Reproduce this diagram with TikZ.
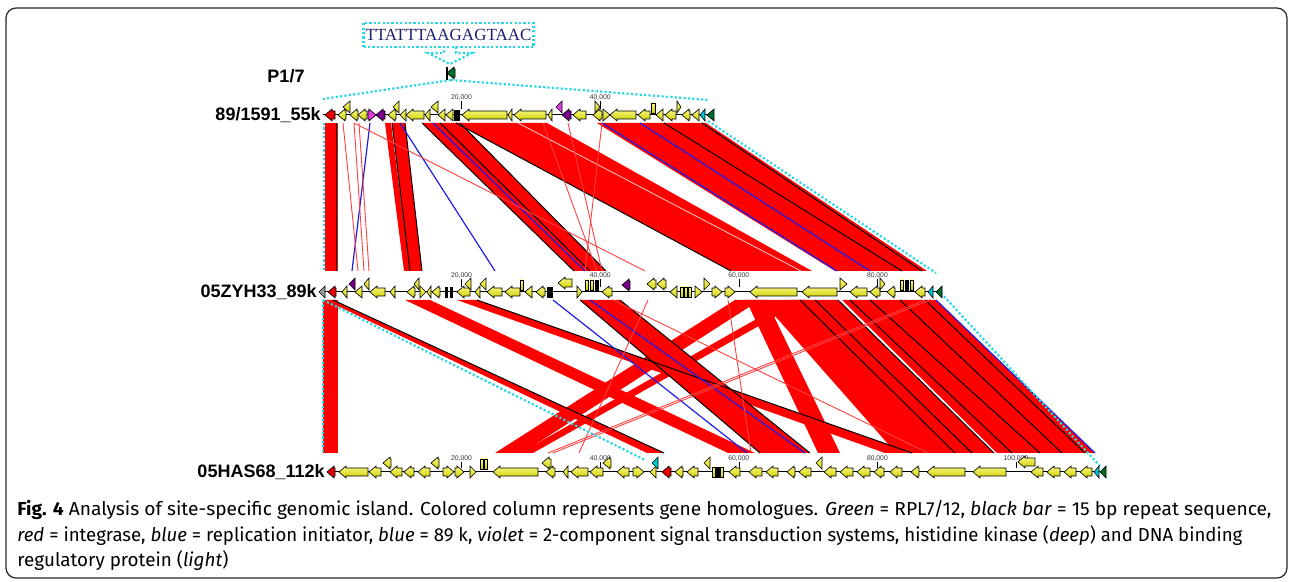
\documentclass[tikz,border=0pt]{standalone}
\usepackage{fontspec}
\usepackage{graphicx}
\setmainfont{Fira Sans}
\newfontfamily\trackfont{Liberation Sans}
\newfontfamily\seqfont{Liberation Serif}
\usetikzlibrary{positioning}

\definecolor{genetop}{RGB}{250,250,130}
\definecolor{genebottom}{RGB}{205,205,0}
\definecolor{genered}{RGB}{230,0,0}
\definecolor{deepviolet}{RGB}{120,0,140}
\definecolor{lightviolet}{RGB}{225,60,225}
\definecolor{genecyan}{RGB}{0,200,210}
\definecolor{genegreen}{RGB}{0,110,40}
\definecolor{islandcyan}{RGB}{40,215,230}
\definecolor{seqblue}{RGB}{30,30,110}
\definecolor{homred}{RGB}{255,0,0}
\definecolor{replblue}{RGB}{30,30,230}

% gene arrow: y, from, to, direction (l/r/b), colour
\newcommand\genearrow[5]{%
  \pgfmathsetmacro\genehead{min(7,#3-#2)}%
  \if l#4%
    \path[gene, gene #5/.try] (#2,#1) -- ++(\genehead,-6) -- ++(0,2) -- (#3,#1-4)
      -- (#3,#1+4) -- (#2+\genehead,#1+4) -- ++(0,2) -- cycle;%
  \else\if r#4%
    \path[gene, gene #5/.try] (#3,#1) -- ++(-\genehead,-6) -- ++(0,2) -- (#2,#1-4)
      -- (#2,#1+4) -- (#3-\genehead,#1+4) -- ++(0,2) -- cycle;%
  \else
    \path[gene, gene #5/.try] (#2,#1-5) rectangle (#3,#1+5);%
  \fi\fi}

\begin{document}
\begin{tikzpicture}[x=0.5pt, y=-0.5pt,
    gene/.style={draw=black, line width=0.3pt},
    gene yellow/.style={top color=genetop, bottom color=genebottom},
    gene red/.style={fill=genered},
    gene deepviolet/.style={fill=deepviolet},
    gene lightviolet/.style={fill=lightviolet},
    gene cyan/.style={fill=genecyan},
    gene green/.style={fill=genegreen},
    gene black/.style={fill=black},
    gene grey/.style={fill=black!40},
    homolog/.style={fill=homred},
    homedge/.style={draw=black, line width=0.5pt},
    homwhite/.style={draw=white!80!red, line width=0.4pt},
    repl/.style={draw=replblue, line width=0.6pt},
    thinhom/.style={draw=homred!75, line width=0.45pt},
    island/.style={draw=islandcyan, line width=1.1pt, dash pattern=on 1.1pt off 1.1pt},
    trackline/.style={draw=black, line width=0.5pt},
    tracklabel/.style={font=\trackfont\fontsize{9pt}{10pt}\selectfont\bfseries, inner sep=0pt},
    scalelabel/.style={font=\trackfont\fontsize{3.4pt}{4pt}\selectfont, inner sep=0pt, text=black!80},
    caption/.style={font=\fontsize{9.4pt}{11pt}\selectfont, inner sep=0pt, anchor=base west}]

\useasboundingbox (0,0) rectangle (1292,582);
\draw[rounded corners=5pt, line width=0.6pt, black!85] (6,8) rectangle (1287,578);

% repeat sequence and P1/7
\node[draw=islandcyan, line width=1.1pt, dash pattern=on 1.1pt off 1.1pt,
      font=\seqfont\fontsize{8.5pt}{10pt}\selectfont, text=seqblue,
      inner xsep=1pt, minimum height=10.5pt] (seq) at (448.5,35) {TTATTTAAGAGTAAC};
\draw[island] (444,46) -- (444,53) -- (428,53) -- (450,64) -- (472,53) -- (456,53) -- (456,46);
\node[tracklabel] (p17-name) at (286,76) {P1/7};
\genearrow{73}{447}{455}{l}{green}
\path[gene, gene black] (446,67) rectangle (447.5,79);
\coordinate (p17) at (451,80);

\coordinate (isl1-l) at (323,99);
\coordinate (isl1-r) at (709,100);
\coordinate (isl1-bl) at (324,123);
\coordinate (isl1-br) at (708,121);
\coordinate (isl2-tl) at (324,272);
\coordinate (isl2-tr) at (936,273);
\coordinate (isl2-bl) at (323,300);
\coordinate (isl2-br) at (941,293);
\coordinate (isl3-tl) at (323,453);
\coordinate (isl3-diag) at (645,460);
\coordinate (isl3-r) at (1100,466);

% homologous blocks 89/1591 - 05ZYH33
\foreach \a/\b/\c/\d in {325/338/325/338, 385/391/404/410, 392/405/410/422,
    422/460/574/606, 456/547/731/812, 597/706/835/927}
  \fill[homolog] (\a,123) -- (\b,123) -- (\d,271) -- (\c,271) -- cycle;
\draw[homwhite] (518,123) -- (801,271);
\foreach \a/\b in {336/336, 392/410, 405/422, 422/574, 440/590, 460/606,
    456/731, 664/902, 702/922}
  \draw[homedge] (\a,123) -- (\b,271);
\foreach \a/\b in {370/352, 400/495, 433/585, 602/837, 640/870}
  \draw[repl] (\a,123) -- (\b,271);
\foreach \a/\b in {343/358, 354/364, 359/369, 354/645, 568/602, 602/585, 543/597}
  \draw[thinhom] (\a,123) -- (\b,271);

% homologous blocks 05ZYH33 - 05HAS68
\foreach \a/\b/\c/\d in {323/338/323/338, 325/333/647/664, 405/430/728/755,
    457/477/885/912, 580/620/760/810, 735/760/495/522, 790/805/520/533,
    746/766/818/840, 761/838/896/994, 842/936/997/1095}
  \fill[homolog] (\a,300) -- (\b,300) -- (\d,453) -- (\c,453) -- cycle;
\foreach \a/\b in {333/664, 477/912, 580/760, 620/810, 800/955, 815/972,
    850/1012, 870/1040, 900/1062, 925/1085, 838/994}
  \draw[homedge] (\a,300) -- (\b,453);
\foreach \a/\b in {553/747, 590/805, 936/1095}
  \draw[repl] (\a,300) -- (\b,453);
\foreach \a/\b in {648/579, 728/751, 613/928, 925/548, 930/553}
  \draw[thinhom] (\a,300) -- (\b,453);

% island borders
\draw[island] (p17) -- (isl1-l);
\draw[island] (p17) -- (isl1-r);
\draw[island] (isl1-bl) -- (isl2-tl);
\draw[island] (isl1-br) -- (isl2-tr);
\draw[island] (isl2-bl) -- (isl3-tl);
\draw[island] (isl2-bl) -- (isl3-diag);
\draw[island] (isl2-br) -- (isl3-r);

% track 89/1591_55k
\coordinate (t1-start) at (323,115);
\coordinate (t1-end) at (714,115);
\draw[trackline] (t1-start) -- (t1-end);
\node[tracklabel, left=1pt of t1-start] (t1-name) {89/1591\_55k};
\foreach \v [count=\i] in {20,40} {
  \node[scalelabel] (t1-scale-\i) at (323+6.93*\v,98) {\v,000};
  \draw[line width=0.3pt] (t1-scale-\i.south) -- ++(0,8);
}
\foreach \a/\b/\d/\s/\o in {325/335/l/red/0, 338/346/l/yellow/0, 343/350/l/yellow/8,
    350/358/l/yellow/0, 358/367/l/yellow/0, 368/376/r/lightviolet/0,
    376/385/l/deepviolet/0, 388/396/l/yellow/0, 393/399/l/yellow/8,
    400/406/l/yellow/0, 406/424/l/yellow/0, 425/430/l/yellow/0,
    431/438/l/yellow/8, 438/445/l/yellow/0, 446/453/l/yellow/0,
    454/456/b/black/0, 457/459/b/black/0, 462/507/l/yellow/0,
    508/512/l/yellow/0, 514/546/l/yellow/0, 548/552/l/yellow/0,
    556/562/l/lightviolet/8, 562/571/l/deepviolet/0, 573/586/l/yellow/0,
    593/602/l/yellow/0, 595/600/r/yellow/8, 603/610/r/yellow/0,
    610/636/l/yellow/0, 638/650/l/yellow/0, 651/655/b/yellow/7,
    656/663/l/yellow/0, 665/676/l/yellow/0, 677/681/r/yellow/8,
    682/690/l/yellow/0, 692/699/l/yellow/0, 700/705/l/cyan/0, 707/714/l/green/0}
  \genearrow{115-\o}{\a}{\b}{\d}{\s};

% track 05ZYH33_89k
\coordinate (t2-start) at (319,292);
\coordinate (t2-end) at (942,292);
\draw[trackline] (t2-start) -- (t2-end);
\node[tracklabel, left=1pt of t2-start] (t2-name) {05ZYH33\_89k};
\foreach \v [count=\i] in {20,40,60,80} {
  \node[scalelabel] (t2-scale-\i) at (323+6.93*\v,276) {\v,000};
  \draw[line width=0.3pt] (t2-scale-\i.south) -- ++(0,8);
}
\foreach \a/\b/\d/\s/\o in {319/325/l/grey/0, 328/336/l/red/0, 342/347/l/yellow/0,
    349/355/l/deepviolet/8, 355/362/l/yellow/0, 364/369/l/yellow/8,
    370/385/l/yellow/0, 390/395/l/yellow/0, 407/415/l/yellow/0,
    414/419/l/yellow/8, 420/426/r/yellow/0, 427/431/l/yellow/0,
    432/440/l/yellow/0, 445/447/b/black/0, 450/452/b/black/0,
    457/470/l/yellow/0, 465/471/l/yellow/8, 475/480/l/yellow/0,
    480/486/l/yellow/8, 487/502/l/yellow/0, 505/520/l/yellow/0,
    520/523/b/yellow/7, 525/532/l/yellow/0, 536/545/l/yellow/0,
    547/552/b/black/0, 558/572/l/yellow/9, 577/582/r/yellow/0,
    585/588/b/yellow/7, 590/593/b/yellow/7, 595/598/b/black/7,
    602/612/l/yellow/0, 622/630/l/deepviolet/7, 647/656/l/yellow/8,
    657/666/l/yellow/8, 670/677/l/yellow/0, 680/683/b/yellow/0,
    684/687/b/yellow/0, 688/691/b/yellow/0, 695/702/r/yellow/0,
    704/710/r/yellow/8, 712/722/r/yellow/0, 725/735/r/yellow/0,
    750/797/l/yellow/0, 802/837/l/yellow/0, 840/847/r/yellow/8,
    850/867/l/yellow/0, 870/880/l/yellow/0, 880/885/r/yellow/8,
    887/895/l/yellow/0, 900/903/b/yellow/7, 905/908/b/black/7,
    910/913/b/yellow/7, 915/925/l/yellow/0, 928/933/l/cyan/0, 936/942/l/green/0}
  \genearrow{292-\o}{\a}{\b}{\d}{\s};

% track 05HAS68_112k
\coordinate (t3-start) at (327,472);
\coordinate (t3-end) at (1106,472);
\draw[trackline] (t3-start) -- (t3-end);
\node[tracklabel, left=1pt of t3-start] (t3-name) {05HAS68\_112k};
\foreach \v [count=\i] in {20,40,60,80,100} {
  \node[scalelabel] (t3-scale-\i) at (323+6.93*\v,459) {\v,000};
  \draw[line width=0.3pt] (t3-scale-\i.south) -- ++(0,6);
}
\foreach \a/\b/\d/\s/\o in {327/335/l/red/0, 339/368/l/yellow/0, 369/381/l/yellow/0,
    383/391/l/yellow/9, 390/402/l/yellow/0, 404/414/l/yellow/0,
    418/430/l/yellow/0, 431/439/l/yellow/9, 443/454/r/yellow/0,
    455/464/r/yellow/0, 470/476/r/yellow/0, 480/483/b/yellow/8,
    484/487/b/yellow/8, 493/538/l/yellow/0, 542/551/l/yellow/9,
    546/555/l/yellow/0, 563/568/l/yellow/0, 571/588/l/yellow/0,
    590/603/l/yellow/0, 603/611/l/yellow/9, 617/629/l/yellow/0,
    633/644/r/yellow/0, 650/656/l/yellow/0, 652/658/l/cyan/9,
    662/671/l/red/0, 675/683/l/yellow/0, 687/698/l/yellow/0,
    704/710/l/yellow/9, 712/715/b/yellow/0, 716/719/b/black/0,
    720/723/b/yellow/0, 729/740/l/yellow/0, 749/762/l/yellow/0,
    766/778/l/yellow/0, 787/795/l/yellow/0, 799/811/l/yellow/0,
    816/822/l/yellow/9, 824/836/l/yellow/0, 840/853/l/yellow/0,
    857/870/l/yellow/0, 874/884/l/yellow/0, 890/902/l/yellow/0,
    911/919/l/yellow/0, 927/965/l/yellow/0, 973/1006/l/yellow/0,
    1018/1035/l/yellow/10, 1031/1043/l/yellow/0, 1047/1060/l/yellow/0,
    1064/1076/l/yellow/0, 1080/1092/l/yellow/0, 1094/1099/l/cyan/0,
    1100/1106/l/green/0}
  \genearrow{472-\o}{\a}{\b}{\d}{\s};

% caption
\node[caption] (cap-1) at (17,516) {\resizebox{627pt}{\height}{\textbf{Fig. 4} Analysis of site-specific genomic island. Colored column represents gene homologues. \textit{Green} = RPL7/12, \textit{black bar} = 15 bp repeat sequence,}};
\node[caption] (cap-2) at (17,542) {\resizebox{612.5pt}{\height}{\textit{red} = integrase, \textit{blue} = replication initiator, \textit{blue} = 89 k, \textit{violet} = 2-component signal transduction systems, histidine kinase (\textit{deep}) and DNA binding}};
\node[caption] (cap-3) at (17,567) {\resizebox{105.5pt}{\height}{regulatory protein (\textit{light})}};

\end{tikzpicture}
\end{document}
